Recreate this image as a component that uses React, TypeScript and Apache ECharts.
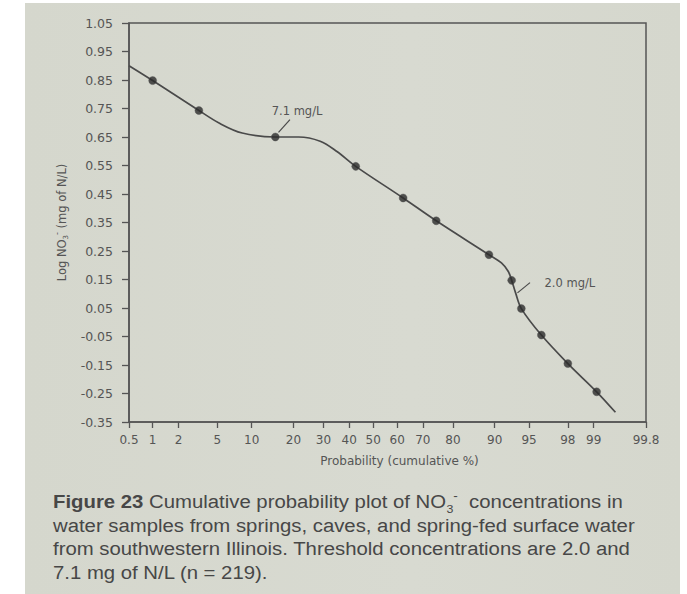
import React, { useEffect, useRef } from "react";
import * as echarts from "echarts";

// ---- data ----
const xTickProb = [0.5, 1, 2, 5, 10, 20, 30, 40, 50, 60, 70, 80, 90, 95, 98, 99, 99.8];
const xTickLabels = ["0.5", "1", "2", "5", "10", "20", "30", "40", "50", "60", "70", "80", "90", "95", "98", "99", "99.8"];
const yTicks = [-0.35, -0.25, -0.15, -0.05, 0.05, 0.15, 0.25, 0.35, 0.45, 0.55, 0.65, 0.75, 0.85, 0.95, 1.05];

// sample points (cumulative probability %, log NO3)
const pointProb = [1.0, 3.3, 15.1, 42.7, 62.4, 74.7, 88.9, 92.8, 94.1, 96.2, 98.0, 99.08];
const pointLog = [0.848, 0.743, 0.65, 0.547, 0.436, 0.356, 0.237, 0.147, 0.048, -0.045, -0.145, -0.244];

// fitted curve
const curveProb = [0.5, 1.0, 3.3, 5.2, 8.35, 15.1, 21.6, 28.8, 35.1, 42.7, 62.4, 74.7, 88.9, 91.2, 92.3, 92.8, 93.35, 94.1, 96.2, 98.0, 99.08, 99.47];
const curveLog = [0.9, 0.848, 0.743, 0.699, 0.664, 0.65, 0.65, 0.635, 0.599, 0.547, 0.436, 0.356, 0.237, 0.208, 0.178, 0.147, 0.103, 0.048, -0.045, -0.145, -0.244, -0.316];

// threshold annotations: arrow from (fromProb, fromLog) to (toProb, toLog), label at (textProb, textLog)
const annTexts = ["7.1 mg/L", "2.0 mg/L"];
const annFromProb = [19.0, 95.1];
const annFromLog = [0.711, 0.139];
const annToProb = [15.9, 93.6];
const annToLog = [0.666, 0.103];
const annTextProb = [21.1, 98.1];
const annTextLog = [0.74, 0.138];

const captionLines = [
  "{b|Figure 23} Cumulative probability plot of NO{sub|3}{sup|-}  concentrations in",
  "water samples from springs, caves, and spring-fed surface water",
  "from southwestern Illinois. Threshold concentrations are 2.0 and",
  "7.1 mg of N/L (n = 219).",
];

// inverse standard normal CDF (Acklam) for the probability scale
function normInv(p: number): number {
  const a = [-39.69683028665376, 220.9460984245205, -275.9285104469687, 138.357751867269, -30.66479806614716, 2.506628277459239];
  const b = [-54.47609879822406, 161.5858368580409, -155.6989798598866, 66.80131188771972, -13.28068155288572];
  const c = [-0.007784894002430293, -0.3223964580411365, -2.400758277161838, -2.549732539343734, 4.374664141464968, 2.938163982698783];
  const d = [0.007784695709041462, 0.3224671290700398, 2.445134137142996, 3.754408661907416];
  const pl = 0.02425;
  if (p < pl) {
    const q = Math.sqrt(-2 * Math.log(p));
    return (((((c[0] * q + c[1]) * q + c[2]) * q + c[3]) * q + c[4]) * q + c[5]) / ((((d[0] * q + d[1]) * q + d[2]) * q + d[3]) * q + 1);
  }
  if (p <= 1 - pl) {
    const q = p - 0.5;
    const r = q * q;
    return ((((((a[0] * r + a[1]) * r + a[2]) * r + a[3]) * r + a[4]) * r + a[5]) * q) / (((((b[0] * r + b[1]) * r + b[2]) * r + b[3]) * r + b[4]) * r + 1);
  }
  const q = Math.sqrt(-2 * Math.log(1 - p));
  return -(((((c[0] * q + c[1]) * q + c[2]) * q + c[3]) * q + c[4]) * q + c[5]) / ((((d[0] * q + d[1]) * q + d[2]) * q + d[3]) * q + 1);
}
const z = (pct: number) => normInv(pct / 100);

const AXIS_FONT = "'DejaVu Sans', sans-serif";
const CAPTION_FONT = "'Liberation Sans', Arial, sans-serif";
const AXIS_COLOR = "#555";
const TEXT_COLOR = "#555";

export default function App() {
  const ref = useRef<HTMLDivElement>(null);

  useEffect(() => {
    if (!ref.current) return;
    const chart = echarts.init(ref.current, null, { renderer: "svg" });
    const xTickZ = xTickProb.map(z);

    const option: any = {
      animation: false,
      grid: {
        left: 129,
        right: 41,
        top: 23,
        bottom: 172,
        show: true,
        borderColor: AXIS_COLOR,
        borderWidth: 1.5,
        backgroundColor: "transparent",
      },
      xAxis: {
        type: "value",
        min: z(0.5),
        max: z(99.8),
        name: "Probability (cumulative %)",
        nameLocation: "middle",
        nameGap: 33,
        nameTextStyle: { fontFamily: AXIS_FONT, fontSize: 12, color: TEXT_COLOR, padding: [0, 0, 0, 24] },
        axisLine: { show: true, onZero: false, lineStyle: { color: AXIS_COLOR, width: 1.5 } },
        axisTick: { show: true, customValues: xTickZ, length: 6, inside: false, lineStyle: { color: AXIS_COLOR, width: 1.3 } },
        axisLabel: {
          show: true,
          customValues: xTickZ,
          margin: 12,
          fontFamily: AXIS_FONT,
          fontSize: 12,
          color: TEXT_COLOR,
          formatter: (v: number) => {
            let best = 0;
            xTickZ.forEach((t, i) => {
              if (Math.abs(t - v) < Math.abs(xTickZ[best] - v)) best = i;
            });
            return xTickLabels[best];
          },
        },
        splitLine: { show: false },
      },
      yAxis: {
        type: "value",
        min: -0.35,
        max: 1.05,
        name: "Log NO{sub|3}{sup|-} (mg of N/L)",
        nameLocation: "middle",
        nameGap: 58,
        nameTextStyle: {
          fontFamily: AXIS_FONT,
          fontSize: 11.5,
          color: TEXT_COLOR,
          rich: {
            sub: { fontFamily: AXIS_FONT, fontSize: 7, color: TEXT_COLOR, verticalAlign: "bottom", lineHeight: 16 },
            sup: { fontFamily: AXIS_FONT, fontSize: 8, color: TEXT_COLOR, verticalAlign: "top", lineHeight: 16 },
          },
        },
        axisLine: { show: true, onZero: false, lineStyle: { color: AXIS_COLOR, width: 1.5 } },
        axisTick: { show: true, customValues: yTicks, length: 7, lineStyle: { color: AXIS_COLOR, width: 1.3 } },
        axisLabel: {
          show: true,
          customValues: yTicks,
          margin: 16,
          fontFamily: AXIS_FONT,
          fontSize: 12.5,
          color: TEXT_COLOR,
          formatter: (v: number) => v.toFixed(2),
        },
        splitLine: { show: false },
      },
      series: [
        {
          type: "line",
          name: "fit",
          data: curveProb.map((p, i) => [z(p), curveLog[i]]),
          smooth: 0.35,
          showSymbol: false,
          symbol: "none",
          lineStyle: { color: "#4a4a4a", width: 1.7 },
          z: 2,
          markLine: {
            silent: true,
            symbol: ["none", "arrow"],
            symbolSize: [0, 6],
            label: { show: false },
            lineStyle: { color: "#4a4a4a", width: 1.2, type: "solid" },
            data: annTexts.map((_, i) => [
              { coord: [z(annFromProb[i]), annFromLog[i]] },
              { coord: [z(annToProb[i]), annToLog[i]] },
            ]),
          },
        },
        {
          type: "scatter",
          name: "samples",
          data: pointProb.map((p, i) => [z(p), pointLog[i]]),
          symbol: "circle",
          symbolSize: 8,
          itemStyle: { color: "#2a2a2a", borderColor: "#555", borderWidth: 0.5 },
          z: 3,
        },
      ],
    };
    chart.setOption(option);

    const annGraphics = annTexts.map((t, i) => {
      const [px, py] = chart.convertToPixel({ gridIndex: 0 } as any, [z(annTextProb[i]), annTextLog[i]]) as number[];
      return {
        type: "text",
        x: px,
        y: py,
        style: {
          text: t,
          fontFamily: AXIS_FONT,
          fontSize: 11.5,
          fill: TEXT_COLOR,
          textAlign: "center",
          textVerticalAlign: "middle",
        },
        z: 10,
      };
    });

    const captionGraphics = captionLines.map((line, i) => ({
      type: "text",
      x: 53,
      y: 502 + i * 23.5,
      scaleX: 1.13,
      style: {
        text: line,
        fontFamily: CAPTION_FONT,
        fontSize: 18,
        fill: "#474747",
        textVerticalAlign: "middle",
        rich: {
          b: { fontFamily: CAPTION_FONT, fontSize: 18, fontWeight: "bold", fill: "#474747", lineHeight: 22 },
          sub: { fontFamily: CAPTION_FONT, fontSize: 11, fill: "#474747", verticalAlign: "bottom", lineHeight: 24 },
          sup: { fontFamily: CAPTION_FONT, fontSize: 12, fill: "#474747", verticalAlign: "top", lineHeight: 24 },
        },
      },
      z: 10,
    }));

    chart.setOption({ graphic: [...annGraphics, ...captionGraphics] });

    return () => chart.dispose();
  }, []);

  return (
    <div
      ref={ref}
      style={{
        position: "fixed",
        left: 0,
        top: 0,
        width: 687,
        height: 594,
        background:
          "linear-gradient(to bottom, #ffffff 3px, transparent 3px), linear-gradient(to right, #ffffff 25px, #d5d7cd 25px, #d8dad1 60%, #d5d7cd 680px, #ffffff 680px)",
      }}
    />
  );
}
